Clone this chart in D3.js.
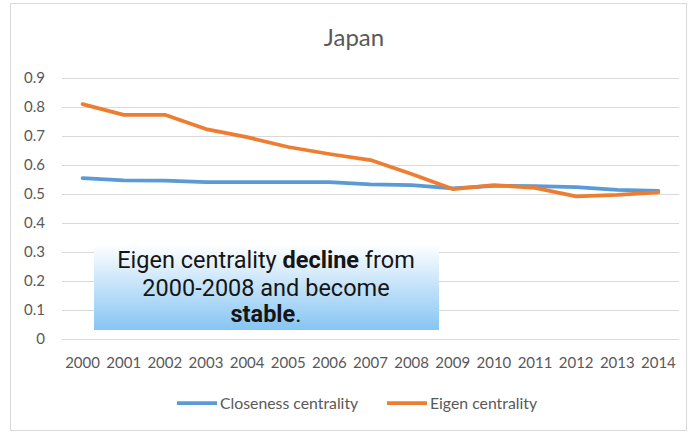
<!DOCTYPE html>
<html>
<head>
<meta charset="utf-8">
<script src="https://cdn.jsdelivr.net/npm/d3@7.9.0/dist/d3.min.js"></script>
<style>
  body { margin: 0; background: #fff; }
  svg { display: block; }
</style>
</head>
<body>
<svg id="chart" width="688" height="432"></svg>
<script>
// Japan: closeness vs eigen centrality, 2000-2014

const years = ['2000', '2001', '2002', '2003', '2004', '2005', '2006', '2007',
  '2008', '2009', '2010', '2011', '2012', '2013', '2014'];
const closeness = [0.555, 0.547, 0.546, 0.541, 0.541, 0.541, 0.541, 0.533,
  0.531, 0.519, 0.528, 0.527, 0.524, 0.514, 0.511];
const eigen = [0.81, 0.773, 0.773, 0.724, 0.696, 0.662, 0.638, 0.617,
  0.569, 0.517, 0.531, 0.521, 0.492, 0.497, 0.506];
const yTicks = [0, 0.1, 0.2, 0.3, 0.4, 0.5, 0.6, 0.7, 0.8, 0.9];

const series = [
  { name: 'Closeness centrality', values: closeness, color: '#5b9bd5' },
  { name: 'Eigen centrality', values: eigen, color: '#ed7d31' }
];

const svg = d3.select('#chart');
const font = 'Lato, "Open Sans", sans-serif';

// chart frame
svg.append('rect')
  .attr('x', 10.5).attr('y', 3.5)
  .attr('width', 676).attr('height', 427)
  .attr('fill', '#fff')
  .attr('stroke', '#d9d9d9');

// scales
let x = d3.scaleBand().domain(years).range([62, 679]);
let y = d3.scaleLinear().domain([0, 0.9]).range([339, 78]);

// gridlines
svg.append('g')
  .selectAll('line')
  .data(yTicks)
  .join('line')
  .attr('x1', 62).attr('x2', 679)
  .attr('y1', (d) => Math.round(y(d)) + 0.5)
  .attr('y2', (d) => Math.round(y(d)) + 0.5)
  .attr('stroke', '#d9d9d9')
  .attr('stroke-width', 1);

// y tick labels
svg.append('g')
  .selectAll('text')
  .data(yTicks)
  .join('text')
  .attr('x', 45)
  .attr('y', (d) => y(d))
  .attr('dy', '0.36em')
  .attr('text-anchor', 'end')
  .attr('font-family', font)
  .attr('font-size', 15)
  .attr('fill', '#595959')
  .text((d) => d === 0 ? '0' : d3.format('.1f')(d));

// x tick labels
svg.append('g')
  .selectAll('text')
  .data(years)
  .join('text')
  .attr('x', (d) => x(d) + x.bandwidth() / 2)
  .attr('y', 368)
  .attr('text-anchor', 'middle')
  .attr('font-family', font)
  .attr('font-size', 15)
  .attr('fill', '#595959')
  .text((d) => d);

// lines
let line = d3.line()
  .x((d, i) => x(years[i]) + x.bandwidth() / 2)
  .y((d) => y(d));

series.forEach((s) => {
  svg.append('path')
    .attr('d', line(s.values))
    .attr('fill', 'none')
    .attr('stroke', s.color)
    .attr('stroke-width', 3.75)
    .attr('stroke-linejoin', 'round')
    .attr('stroke-linecap', 'round');
});

// title
svg.append('text')
  .attr('x', 354)
  .attr('y', 46)
  .attr('text-anchor', 'middle')
  .attr('font-family', font)
  .attr('font-size', 24)
  .attr('fill', '#595959')
  .text('Japan');

// legend
const legendX = [177, 387];
series.forEach((s, i) => {
  let g = svg.append('g').attr('transform', `translate(${legendX[i]},403)`);
  g.append('line')
    .attr('x1', 0).attr('x2', 40)
    .attr('stroke', s.color)
    .attr('stroke-width', 3.75);
  g.append('text')
    .attr('x', 43)
    .attr('dy', '0.35em')
    .attr('font-family', font)
    .attr('font-size', 15.8)
    .attr('fill', '#595959')
    .text(s.name);
});

// annotation box
let defs = svg.append('defs');
let grad = defs.append('linearGradient')
  .attr('id', 'boxGrad')
  .attr('x1', 0).attr('y1', 0).attr('x2', 0).attr('y2', 1);
grad.append('stop').attr('offset', '0%').attr('stop-color', '#ffffff');
grad.append('stop').attr('offset', '100%').attr('stop-color', '#86c5f3');

svg.append('rect')
  .attr('x', 94).attr('y', 244)
  .attr('width', 345).attr('height', 86)
  .attr('fill', 'url(#boxGrad)');

const noteLines = [
  [{ t: 'Eigen centrality ', b: false }, { t: 'decline', b: true }, { t: ' from', b: false }],
  [{ t: '2000-2008 and become', b: false }],
  [{ t: 'stable', b: true }, { t: '.', b: false }]
];
const noteY = [268, 296, 322];

noteLines.forEach((parts, i) => {
  let txt = svg.append('text')
    .attr('x', 266)
    .attr('y', noteY[i])
    .attr('text-anchor', 'middle')
    .attr('font-family', 'Roboto, sans-serif')
    .attr('font-size', 23.5)
    .attr('fill', '#151515');
  parts.forEach((p) => {
    txt.append('tspan')
      .attr('font-weight', p.b ? 700 : 400)
      .text(p.t);
  });
});
</script>
</body>
</html>
